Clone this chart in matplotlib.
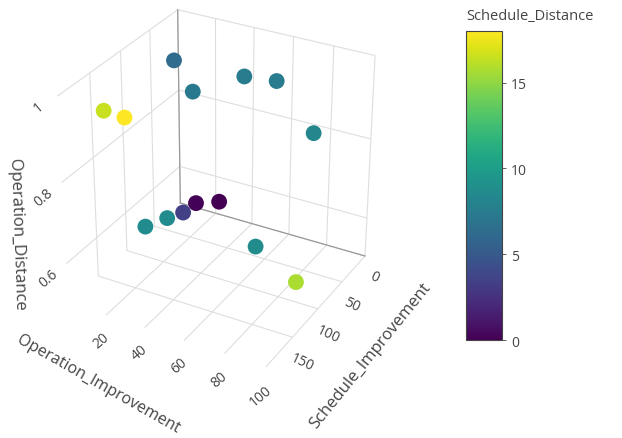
import matplotlib.pyplot as plt
import numpy as np

plt.rcParams['font.family'] = ['Open Sans', 'DejaVu Sans']

# one entry per run
op_improvement = [8, 25, 40, 55, 80, 13, 24, 19, 28, 18, 14, 9, 62, 90]
sched_improvement = [35, 60, 18, 12, 36, 170, 172, 35, 22, 56, 72, 95, 76, 105]
op_distance = [0.92, 0.89, 0.90, 0.90, 0.83, 0.95, 0.95, 0.57, 0.57, 0.57, 0.57, 0.57, 0.57, 0.56]
sched_distance = [6.3, 7.3, 7.4, 7.4, 8.3, 16.5, 18.0, 0.1, 0.0, 3.5, 8.6, 8.6, 8.7, 15.7]

sched_ticks = [0, 50, 100, 150]
op_ticks = [20, 40, 60, 80, 100]
dist_ticks = [0.6, 0.8, 1.0]

txt = '#444444'
grid = '#dedede'

fig = plt.figure(figsize=(6.22, 4.39), dpi=100)
ax = fig.add_axes([-0.088, -0.03, 0.86, 1.2], projection='3d')
ax.set_proj_type('persp', focal_length=0.6)
ax.set_box_aspect((1, 1, 1.04), zoom=0.73)
ax.view_init(elev=30, azim=29)

sc = ax.scatter(sched_improvement, op_improvement, op_distance, c=sched_distance,
                cmap='viridis', vmin=0, vmax=18, s=130, depthshade=False,
                edgecolors='none', alpha=1)

ax.set_xlim(0, 200)
ax.set_ylim(0, 100)
ax.set_zlim(0.5, 1.0)
ax.set_xticks(sched_ticks)
ax.set_yticks(op_ticks)
ax.set_zticks(dist_ticks)
ax.set_zticklabels(['0.6', '0.8', '1'])

# zero line of Schedule_Improvement on the floor and the back wall
ax.plot([0, 0], [0, 100], [0.5, 0.5], color='#999999', lw=0.9)
ax.plot([0, 0], [0, 0], [0.5, 1.0], color='#999999', lw=0.9)

for axis in (ax.xaxis, ax.yaxis, ax.zaxis):
    axis.set_pane_color((1, 1, 1, 0))
    axis.pane.set_edgecolor((1, 1, 1, 0))
    axis.line.set_color((1, 1, 1, 0))
    axis._axinfo['grid']['color'] = grid
    axis._axinfo['grid']['linewidth'] = 0.8
    axis._axinfo['tick']['inward_factor'] = 0
    axis._axinfo['tick']['outward_factor'] = 0

ax.tick_params(axis='x', colors=txt, labelsize=10, pad=2, labelrotation=-25)
ax.tick_params(axis='y', colors=txt, labelsize=10, pad=1, labelrotation=40)
ax.tick_params(axis='z', colors=txt, labelsize=10, pad=3, labelrotation=40)

# axis titles placed along the box edges
fig.text(0.027, 0.465, 'Operation_Distance', fontsize=12, color=txt,
         rotation=-88, ha='center', va='center')
fig.text(0.158, 0.125, 'Operation_Improvement', fontsize=11.5, color=txt,
         rotation=-29.5, ha='center', va='center')
fig.text(0.595, 0.19, 'Schedule_Improvement', fontsize=12, color=txt,
         rotation=51, ha='center', va='center')

cax = fig.add_axes([0.749, 0.223, 0.058, 0.704])
cb = fig.colorbar(sc, cax=cax)
cb.set_ticks([0, 5, 10, 15])
cb.outline.set_edgecolor(txt)
cb.outline.set_linewidth(0.8)
cax.tick_params(colors=txt, labelsize=10, length=3, width=0.6)
fig.text(0.749, 0.945, 'Schedule_Distance', fontsize=10.5, color=txt, ha='left', va='bottom')

fig.savefig('out.png', dpi=100)
